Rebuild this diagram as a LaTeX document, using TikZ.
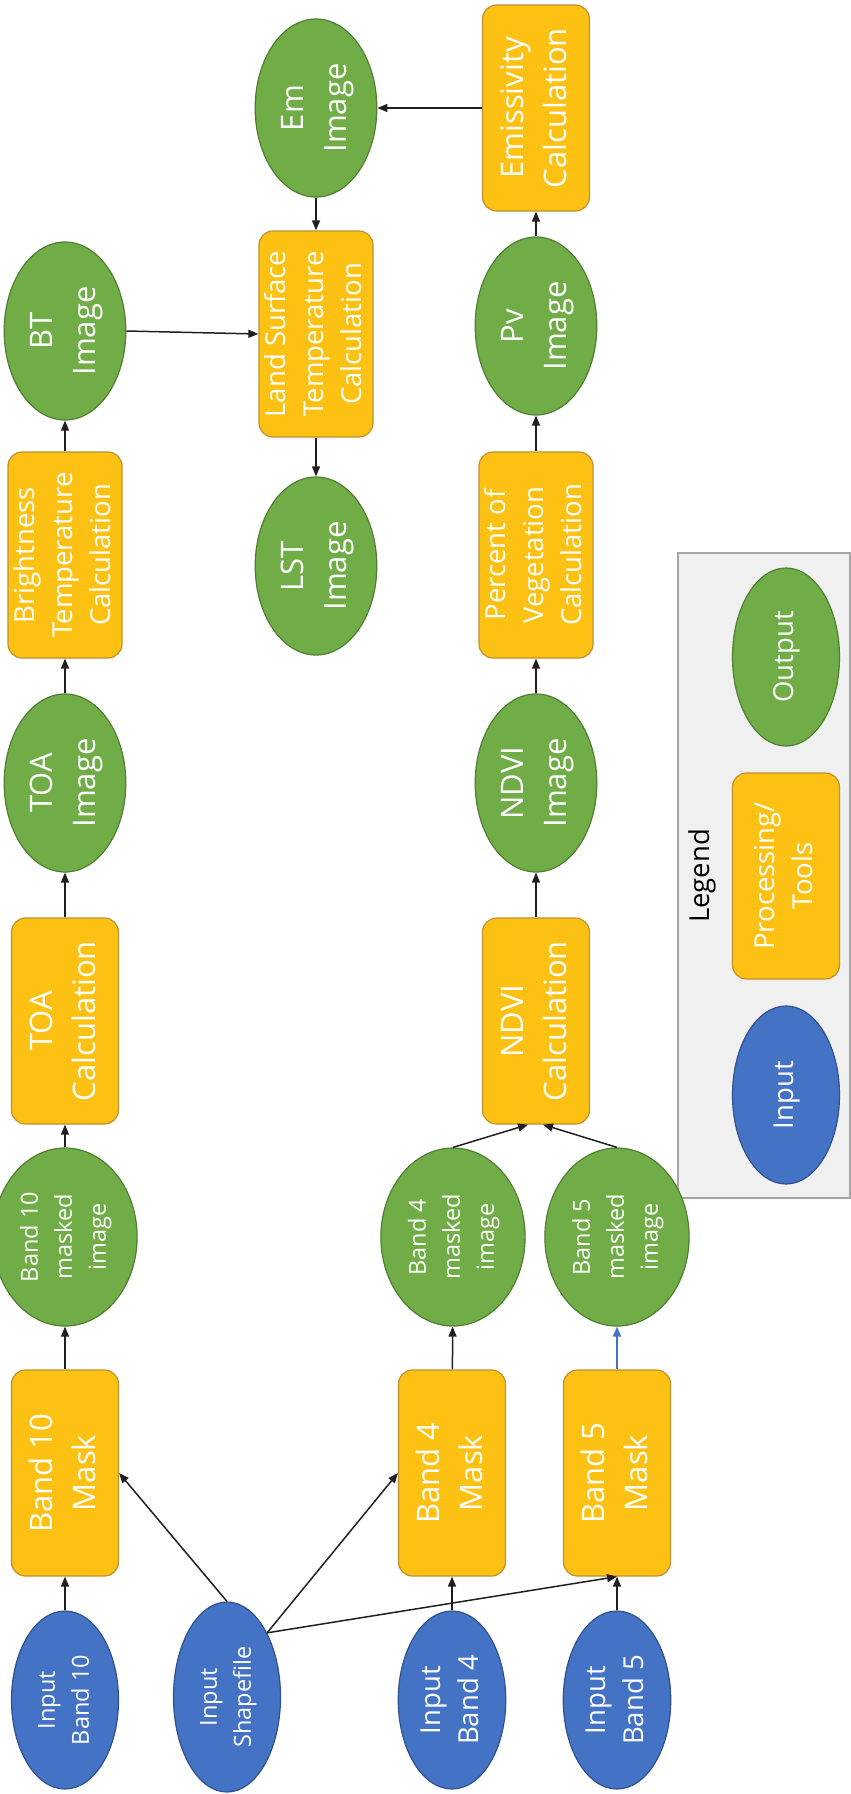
\documentclass[tikz,border=0pt]{standalone}
\usepackage{fontspec}
\setmainfont{Open Sans}
\usetikzlibrary{shapes.geometric,arrows.meta}
\definecolor{inblue}{HTML}{4472C4}
\definecolor{inblueD}{HTML}{2F528F}
\definecolor{outgreen}{HTML}{70AD47}
\definecolor{outgreenD}{HTML}{507E32}
\definecolor{procy}{HTML}{FDC113}
\definecolor{procD}{HTML}{BF9030}
\definecolor{legbg}{HTML}{F0F0F0}
\definecolor{legbd}{HTML}{A6A6A6}
\definecolor{arrowc}{HTML}{231F20}
\newcommand{\rt}[1]{\rotatebox{90}{\begin{tabular}{@{}c@{}}#1\end{tabular}}}
\tikzset{
  inp/.style={ellipse, fill=inblue, draw=inblueD, line width=1.2pt, minimum width=107pt, minimum height=178pt, inner sep=0pt, text=white},
  outp/.style={ellipse, fill=outgreen, draw=outgreenD, line width=1.2pt, minimum width=107pt, minimum height=178pt, inner sep=0pt, text=white},
  proc/.style={rectangle, rounded corners=14pt, fill=procy, draw=procD, line width=1.2pt, minimum width=107pt, minimum height=206pt, inner sep=0pt, text=white},
  fbig/.style={font=\fontsize{31}{43}\selectfont},
  fmed/.style={font=\fontsize{27.5}{38}\selectfont},
  fsmall/.style={font=\fontsize{23.5}{34}\selectfont},
  arr/.style={-{Triangle[length=10pt,width=8pt]}, line width=1.5pt, draw=arrowc},
  legframe/.style={fill=legbg, draw=legbd, line width=1.5pt}
}
\begin{document}
\begin{tikzpicture}[x=1pt,y=-1pt]
\useasboundingbox (0,0) rectangle (851,1794);
% legend frame
\draw[legframe] (678,553) rectangle (850,1198);
\node[fmed, text=black, inner sep=0pt] (legtitle) at (702,876) {\rt{Legend}};
\node[outp, fmed] (legout) at (786,657) {\rt{Output}};
\node[proc, fmed] (legproc) at (786,876) {\rt{Processing/\\Tools}};
\node[inp, fmed] (legin) at (786,1095) {\rt{Input}};
% inputs
\node[inp, fsmall] (inb10) at (65,1700) {\rt{Input\\Band 10}};
\node[inp, fsmall, minimum height=190pt] (shp) at (227,1697) {\rt{Input\\Shapefile}};
\node[inp, fmed] (inb4) at (452,1700) {\rt{Input\\Band 4}};
\node[inp, fmed] (inb5) at (617,1700) {\rt{Input\\Band 5}};
% masks
\node[proc, fbig] (mask10) at (65,1473) {\rt{Band 10\\Mask}};
\node[proc, fbig] (mask4) at (452,1473) {\rt{Band 4\\Mask}};
\node[proc, fbig] (mask5) at (617,1473) {\rt{Band 5\\Mask}};
% masked images
\node[outp, fsmall] (b10m) at (65,1237) {\rt{Band 10\\masked\\image}};
\node[outp, fsmall] (b4m) at (453,1237) {\rt{Band 4\\masked\\image}};
\node[outp, fsmall] (b5m) at (617,1237) {\rt{Band 5\\masked\\image}};
% calculations
\node[proc, fbig] (toac) at (65,1021) {\rt{TOA\\Calculation}};
\node[proc, fbig] (ndvic) at (536,1021) {\rt{NDVI\\Calculation}};
\node[outp, fbig] (toai) at (65,783) {\rt{TOA\\Image}};
\node[outp, fbig] (ndvii) at (536,783) {\rt{NDVI\\Image}};
\node[proc, fmed] (btc) at (65,555) {\rt{Brightness\\Temperature\\Calculation}};
\node[proc, fmed] (pvc) at (536,555) {\rt{Percent of\\Vegetation\\Calculation}};
\node[outp, fbig] (lsti) at (316,566) {\rt{LST\\Image}};
\node[outp, fbig] (bti) at (65,331) {\rt{BT\\Image}};
\node[outp, fbig] (pvi) at (536,326) {\rt{Pv\\Image}};
\node[proc, fmed] (lstc) at (316,334) {\rt{Land Surface\\Temperature\\Calculation}};
\node[outp, fbig] (emi) at (316,108) {\rt{Em\\Image}};
\node[proc, fbig] (emc) at (536,108) {\rt{Emissivity\\Calculation}};
% connectors
\coordinate (shpout) at (shp.58);
\draw[arr] (inb10) -- (mask10);
\draw[arr] (shp.north) -- (mask10.east);
\draw[arr] (shpout) -- (mask4.west);
\draw[arr] (shpout) -- (mask5.south);
\draw[arr] (inb4) -- (mask4);
\draw[arr] (inb5) -- (mask5);
\draw[arr] (mask10) -- (b10m);
\draw[arr] (mask4) -- (b4m);
\draw[arr, draw=inblue, fill=inblue] (mask5) -- (b5m);
\draw[arr] (b10m) -- (toac);
\draw[arr] (b4m.north) -- ([xshift=-8pt]ndvic.south);
\draw[arr] (b5m.north) -- ([xshift=7pt]ndvic.south);
\draw[arr] (toac) -- (toai);
\draw[arr] (ndvic) -- (ndvii);
\draw[arr] (toai) -- (btc);
\draw[arr] (ndvii) -- (pvc);
\draw[arr] (btc) -- (bti);
\draw[arr] (pvc) -- (pvi);
\draw[arr] (pvi) -- (emc);
\draw[arr] (bti.east) -- (lstc.west);
\draw[arr] (emc.west) -- (emi.east);
\draw[arr] (emi) -- (lstc);
\draw[arr] (lstc) -- (lsti);
\end{tikzpicture}
\end{document}
